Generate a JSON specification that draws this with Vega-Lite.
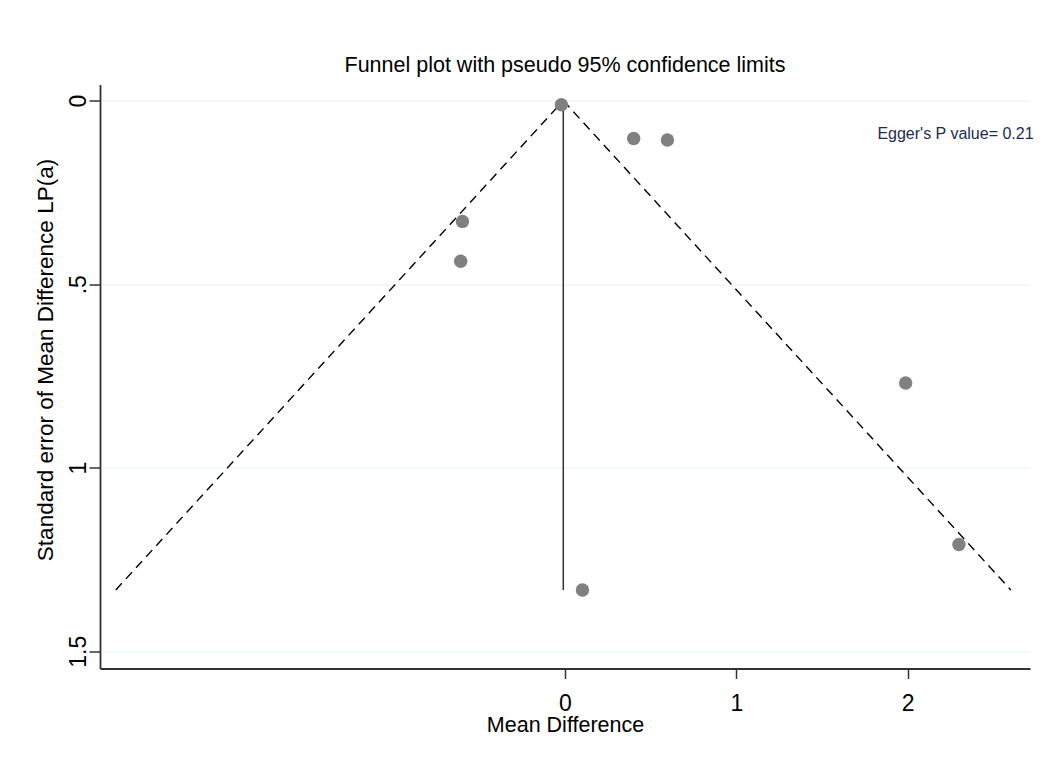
{
  "$schema": "https://vega.github.io/schema/vega-lite/v6.json",
  "autosize": "none",
  "width": 930,
  "height": 584,
  "padding": {"left": 100, "top": 84.5, "right": 25, "bottom": 98.5},
  "background": "white",
  "title": {
    "text": "Funnel plot with pseudo 95% confidence limits",
    "font": "Liberation Sans",
    "fontSize": 21.5,
    "fontWeight": "normal",
    "color": "#000000",
    "anchor": "middle",
    "frame": "group",
    "baseline": "alphabetic",
    "offset": -9
  },
  "config": {
    "view": {"stroke": null},
    "font": "Liberation Sans"
  },
  "datasets": {
    "studies": [
      {"md": -0.021, "se": 0.011},
      {"md": 0.401, "se": 0.103},
      {"md": 0.598, "se": 0.107},
      {"md": -0.599, "se": 0.329},
      {"md": -0.609, "se": 0.4375},
      {"md": 1.989, "se": 0.769},
      {"md": 2.300, "se": 1.209},
      {"md": 0.102, "se": 1.333}
    ],
    "limits": [
      {"md": -2.623, "se": 1.333, "side": "lower"},
      {"md": -0.01, "se": 0, "side": "lower"},
      {"md": -0.01, "se": 0, "side": "upper"},
      {"md": 2.603, "se": 1.333, "side": "upper"}
    ],
    "pooled": [
      {"md": -0.01, "se": 0, "se_end": 1.333}
    ],
    "note": [
      {"md": 2.736, "se": 0.105, "label": "Egger's P value= 0.21"}
    ]
  },
  "layer": [
    {
      "data": {"name": "limits"},
      "mark": {"type": "line", "color": "#000000", "strokeWidth": 1.4, "strokeDash": [9, 6]},
      "encoding": {
        "x": {
          "field": "md", "type": "quantitative",
          "scale": {"domain": [-2.715, 2.715], "nice": false, "zero": false},
          "axis": {
            "values": [0, 1, 2],
            "format": "d",
            "title": "Mean Difference",
            "grid": false,
            "domainColor": "#333333",
            "domainWidth": 1.8,
            "tickColor": "#333333",
            "tickWidth": 1.5,
            "tickSize": 10,
            "labelFontSize": 23,
            "labelColor": "#000000",
            "labelBaseline": "alphabetic",
            "labelPadding": 32,
            "labelFont": "Liberation Sans",
            "titleFont": "Liberation Sans",
            "titleFontSize": 21.5,
            "titleFontWeight": "normal",
            "titleColor": "#000000",
            "titleBaseline": "alphabetic",
            "titleY": 63
          }
        },
        "y": {
          "field": "se", "type": "quantitative",
          "scale": {"domain": [-0.044, 1.547], "reverse": true, "nice": false, "zero": false},
          "axis": {
            "values": [0, 0.5, 1, 1.5],
            "labelExpr": "datum.value == 0.5 ? '.5' : (datum.value == 1.5 ? '1.5' : format(datum.value, 'd'))",
            "title": "Standard error of Mean Difference LP(a)",
            "grid": true,
            "gridColor": "#eaf0f6",
            "gridWidth": 1.2,
            "domainColor": "#333333",
            "domainWidth": 1.8,
            "tickColor": "#333333",
            "tickWidth": 1.5,
            "tickSize": 11,
            "labelAngle": -90,
            "labelFontSize": 23,
            "labelColor": "#000000",
            "labelBaseline": "alphabetic",
            "labelPadding": 4,
            "labelFont": "Liberation Sans",
            "titleFont": "Liberation Sans",
            "titleFontSize": 22.5,
            "titleFontWeight": "normal",
            "titleColor": "#000000",
            "titleBaseline": "alphabetic",
            "titleX": -48,
            "titleY": 275
          }
        },
        "detail": {"field": "side", "type": "nominal"}
      }
    },
    {
      "data": {"name": "pooled"},
      "mark": {"type": "rule", "color": "#333333", "strokeWidth": 1.5},
      "encoding": {
        "x": {"field": "md", "type": "quantitative"},
        "y": {"field": "se", "type": "quantitative"},
        "y2": {"field": "se_end"}
      }
    },
    {
      "data": {"name": "studies"},
      "mark": {"type": "point", "shape": "circle", "filled": true, "color": "#808080", "opacity": 1, "size": 180},
      "encoding": {
        "x": {"field": "md", "type": "quantitative"},
        "y": {"field": "se", "type": "quantitative"}
      }
    },
    {
      "data": {"name": "note"},
      "mark": {"type": "text", "align": "right", "baseline": "alphabetic", "fontSize": 16, "font": "Liberation Sans", "color": "#1c2d4f"},
      "encoding": {
        "x": {"field": "md", "type": "quantitative"},
        "y": {"field": "se", "type": "quantitative"},
        "text": {"field": "label"}
      }
    }
  ]
}
